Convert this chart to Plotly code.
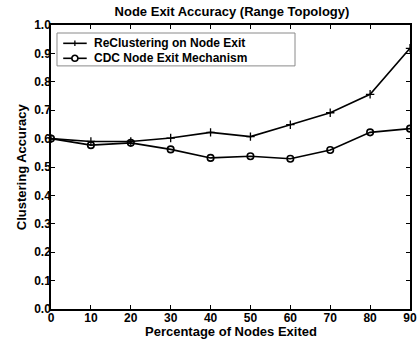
import plotly.graph_objects as go

x_vals = [0, 10, 20, 30, 40, 50, 60, 70, 80, 90]
reclustering = [0.600, 0.590, 0.590, 0.602, 0.622, 0.607, 0.649, 0.691, 0.756, 0.918]
cdc = [0.600, 0.577, 0.585, 0.562, 0.532, 0.538, 0.529, 0.560, 0.622, 0.635]
x_ticks = [0, 10, 20, 30, 40, 50, 60, 70, 80, 90]
y_ticks = [0.0, 0.1, 0.2, 0.3, 0.4, 0.5, 0.6, 0.7, 0.8, 0.9, 1.0]
series_names = ["ReClustering on Node Exit", "CDC Node Exit Mechanism"]

FONT = "Liberation Sans"

fig = go.Figure()
fig.add_trace(go.Scatter(
    x=x_vals, y=reclustering, mode="lines+markers",
    name=series_names[0], showlegend=False,
    line=dict(color="black", width=1.6),
    marker=dict(symbol="cross-thin-open", size=6, color="black", line=dict(width=1.3, color="black")),
))
fig.add_trace(go.Scatter(
    x=x_vals, y=cdc, mode="lines+markers",
    name=series_names[1], showlegend=False,
    line=dict(color="black", width=1.6),
    marker=dict(symbol="circle-open", size=6.5, color="black", line=dict(width=1.6, color="black")),
))

axis_common = dict(
    showgrid=False, zeroline=False, showline=True, linecolor="black", linewidth=1.5,
    mirror="allticks", ticks="inside", ticklen=4, tickwidth=1.3, tickcolor="black",
    automargin=False,
    tickfont=dict(family=FONT, size=12, color="black", weight="bold"),
)

# compact legend box (paper coordinates)
L_X0, L_X1, L_Y0, L_Y1 = 0.0167, 0.6797, 0.856, 0.9718
ROW_Y = [0.9355, 0.8827]
G_X0, G_X1, G_XM = 0.034, 0.0995, 0.0665
TXT_X = 0.1142
shapes = [dict(type="rect", xref="paper", yref="paper", x0=L_X0, x1=L_X1, y0=L_Y0, y1=L_Y1,
               line=dict(color="#8a8a8a", width=1), fillcolor="white", layer="above")]
annotations = []
for i, ry in enumerate(ROW_Y):
    shapes.append(dict(type="line", xref="paper", yref="paper", x0=G_X0, x1=G_X1, y0=ry, y1=ry,
                       line=dict(color="black", width=1.6), layer="above"))
    annotations.append(dict(text="<b>" + series_names[i] + "</b>", xref="paper", yref="paper",
                            x=TXT_X, y=ry, xanchor="left", yanchor="middle", showarrow=False,
                            font=dict(family=FONT, size=12, color="black")))
# plus glyph
shapes.append(dict(type="line", xref="paper", yref="paper", x0=G_XM, x1=G_XM,
                   y0=ROW_Y[0] - 0.0095, y1=ROW_Y[0] + 0.0095,
                   line=dict(color="black", width=1.3), layer="above"))
# circle glyph
shapes.append(dict(type="circle", xref="paper", yref="paper",
                   x0=G_XM - 0.0084, x1=G_XM + 0.0084, y0=ROW_Y[1] - 0.0106, y1=ROW_Y[1] + 0.0106,
                   line=dict(color="black", width=1.6), fillcolor="white", layer="above"))

annotations += [
    dict(text="<b>Percentage of Nodes Exited</b>", xref="paper", yref="paper",
         x=0.5, y=-0.08, xanchor="center", yanchor="middle", showarrow=False,
         font=dict(family=FONT, size=13, color="black")),
    dict(text="<b>Clustering Accuracy</b>", xref="paper", yref="paper",
         x=-0.083, y=0.5, xanchor="center", yanchor="middle", showarrow=False, textangle=-90,
         font=dict(family=FONT, size=13, color="black")),
]

fig.update_layout(
    width=418, height=339,
    margin=dict(l=51, r=8, t=25, b=30),
    paper_bgcolor="white", plot_bgcolor="white",
    title=dict(text="<b>Node Exit Accuracy (Range Topology)</b>", x=0.555, xanchor="center",
               yref="container", y=0.967, yanchor="middle",
               font=dict(family=FONT, size=13, color="black")),
    xaxis=dict(range=[0, 90], tickvals=x_ticks, ticktext=[str(v) for v in x_ticks],
               ticklabelstandoff=-3, **axis_common),
    yaxis=dict(range=[0, 1.0], tickvals=y_ticks, ticktext=[f"{v:.1f}" for v in y_ticks],
               ticklabelstandoff=-4, **axis_common),
    showlegend=False,
    shapes=shapes,
    annotations=annotations,
)

fig.write_html("out.html", config={"displayModeBar": False},
               post_script="document.body.style.margin='0';document.body.style.overflow='hidden';")
